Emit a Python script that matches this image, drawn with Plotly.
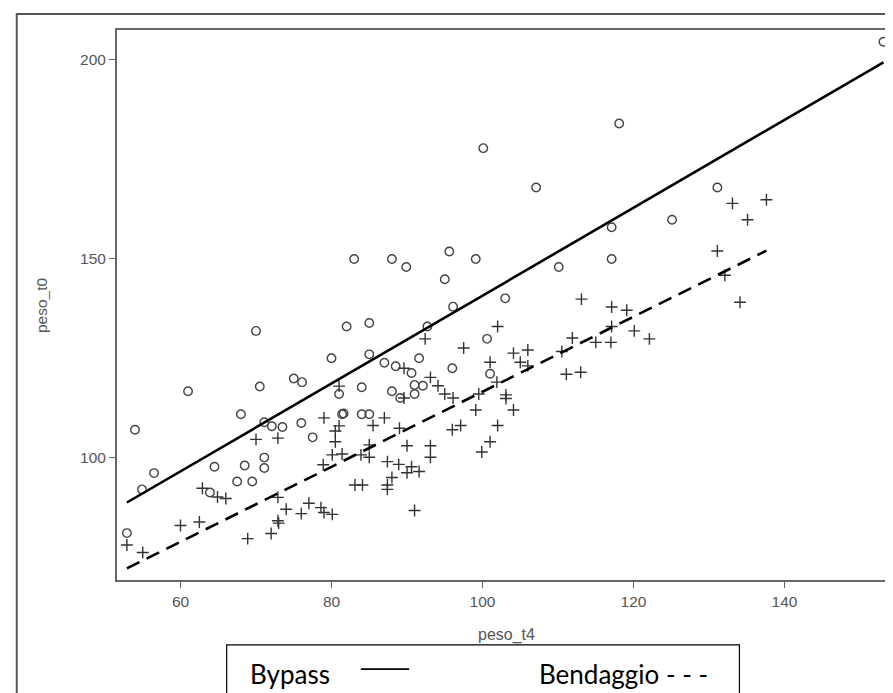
import plotly.graph_objects as go

# ---- data ----
bypass_x = [53.97, 52.9, 54.9, 56.5, 61.0, 64.5, 63.9, 68.0, 67.5, 68.5, 69.5, 70.0, 70.5, 71.1, 71.1, 71.1,
            72.1, 73.5, 75.0, 76.1, 76.0, 77.5, 80.0, 81.0, 81.4, 81.6, 82.0, 84.0, 84.0, 85.0, 85.0, 85.0,
            87.0, 88.0, 88.5, 89.1, 90.6, 91.0, 91.0, 91.6, 92.1, 92.7, 96.0, 100.6, 101.0, 100.1, 83.0, 88.0,
            89.9, 95.6, 99.1, 95.0, 96.1, 103.0, 153.1, 118.1, 107.1, 131.1, 125.1, 117.1, 117.1, 110.1]
bypass_y = [106.9, 80.9, 91.9, 96.0, 116.6, 97.6, 91.1, 110.8, 93.9, 97.9, 93.9, 131.8, 117.8, 108.8, 99.9, 97.3,
            107.8, 107.6, 119.8, 118.9, 108.6, 105.0, 124.9, 115.9, 110.8, 111.0, 132.9, 117.6, 110.8, 110.8, 133.8, 125.9,
            123.8, 116.6, 122.9, 114.9, 121.2, 118.2, 115.9, 124.9, 118.0, 132.9, 122.4, 129.8, 121.0, 177.8, 149.9, 149.9,
            147.9, 151.8, 149.9, 144.8, 137.9, 140.0, 204.6, 184.0, 167.9, 167.9, 159.8, 157.9, 149.9, 147.9]

bend_x = [52.9, 55.0, 60.0, 62.5, 62.9, 64.9, 66.0, 68.9, 70.0, 72.0, 72.9, 73.0, 72.9, 72.9, 74.0, 76.0,
          77.0, 78.6, 79.0, 80.1, 79.0, 78.9, 80.1, 80.5, 80.5, 81.0, 81.4, 81.0, 83.1, 84.1, 83.9, 85.0,
          85.0, 85.5, 87.0, 87.4, 88.0, 87.4, 87.4, 88.9, 89.0, 90.0, 90.6, 90.0, 91.6, 91.0, 89.6, 89.6,
          92.4, 93.1, 93.1, 93.1, 94.1, 95.0, 96.1, 96.0, 97.1, 97.5, 99.1, 99.5, 99.9, 101.0, 101.0, 102.0,
          101.9, 102.0, 103.1, 103.1, 104.1, 104.1, 106.0, 105.0, 106.0, 110.5, 111.9, 115.0, 117.0, 117.1,
          120.1, 122.1, 111.1, 113.0, 113.1, 117.1, 119.1, 133.1, 137.6, 135.1, 131.1, 132.1, 134.1]
bend_y = [77.9, 76.0, 82.8, 83.7, 92.2, 90.0, 89.6, 79.5, 104.5, 80.8, 84.0, 83.4, 104.8, 89.9, 86.9, 85.8,
          88.4, 87.3, 86.1, 85.6, 109.9, 98.1, 100.6, 103.9, 106.6, 107.9, 100.8, 117.9, 93.0, 93.0, 100.6, 100.0,
          103.1, 108.0, 109.9, 98.9, 94.9, 93.0, 91.9, 98.2, 107.3, 102.9, 97.6, 96.1, 96.4, 86.6, 122.4, 114.9,
          129.8, 102.9, 100.0, 120.1, 118.0, 115.9, 114.9, 106.9, 108.0, 127.5, 111.9, 115.9, 101.3, 103.9, 123.9, 132.9,
          118.9, 108.0, 115.7, 114.8, 111.9, 126.2, 127.0, 123.9, 123.0, 126.6, 130.0, 128.9, 128.9, 132.9,
          131.8, 129.8, 120.9, 121.4, 139.8, 137.8, 137.0, 163.9, 164.8, 159.8, 151.9, 145.8, 139.0]

fit_bypass_x = [52.9, 153.1]
fit_bypass_y = [88.6, 199.4]
fit_bend_x = [52.9, 137.6]
fit_bend_y = [72.0, 152.0]

x_ticks = [60, 80, 100, 120, 140]
y_ticks = [100, 150, 200]

fig = go.Figure()
fig.add_trace(go.Scatter(x=bypass_x, y=bypass_y, mode="markers", name="Bypass",
                         marker=dict(symbol="circle-open", size=8.5, color="#444", line=dict(width=1.4))))
fig.add_trace(go.Scatter(x=bend_x, y=bend_y, mode="markers", name="Bendaggio",
                         marker=dict(symbol="cross-thin-open", size=8.5, color="#333", line=dict(width=1.4))))
fig.add_trace(go.Scatter(x=fit_bypass_x, y=fit_bypass_y, mode="lines",
                         line=dict(color="black", width=2.6)))
fig.add_trace(go.Scatter(x=fit_bend_x, y=fit_bend_y, mode="lines",
                         line=dict(color="black", width=2.6, dash="14px,8px")))

axis_common = dict(showgrid=False, zeroline=False, showline=True, mirror=True,
                   linecolor="#666", linewidth=2, ticks="outside", ticklen=6,
                   tickcolor="#666", tickwidth=1,
                   tickfont=dict(family="Liberation Sans, Arial", size=15.5, color="#555"))

fig.update_layout(
    width=893, height=693,
    margin=dict(l=109, r=3, t=22, b=121),
    paper_bgcolor="white", plot_bgcolor="white",
    showlegend=False,
    xaxis=dict(range=[51.59, 154.76], tickvals=x_ticks, **axis_common),
    yaxis=dict(range=[69.09, 207.55], tickvals=y_ticks, **axis_common),
    font=dict(family="Liberation Sans, Arial", color="#444"),
)

# outer frame
fig.add_shape(type="rect", xref="paper", yref="paper", x0=-0.1287, x1=1.02, y0=-0.35, y1=1.029,
              line=dict(color="#555", width=2), fillcolor="rgba(0,0,0,0)", layer="below")

# axis titles
fig.add_annotation(text="peso_t0", xref="paper", yref="paper", x=-0.0975, y=0.5,
                   textangle=-90, showarrow=False, xanchor="center", yanchor="middle",
                   font=dict(family="Liberation Sans, Arial", size=15.5, color="#555"))
fig.add_annotation(text="peso_t4", xref="paper", yref="paper", x=0.5, y=-0.1,
                   showarrow=False, xanchor="center", yanchor="middle",
                   font=dict(family="Liberation Sans, Arial", size=16, color="#555"))

# legend box
fig.add_shape(type="rect", xref="paper", yref="paper", x0=0.1408, x1=0.799, y0=-0.2165, y1=-0.118,
              line=dict(color="black", width=1.2), fillcolor="white", layer="above")
fig.add_shape(type="line", xref="paper", yref="paper", x0=0.313, x1=0.375, y0=-0.162, y1=-0.162,
              line=dict(color="black", width=1.6))
fig.add_annotation(text="Bypass", xref="paper", yref="paper", x=0.168, y=-0.171,
                   showarrow=False, xanchor="left", yanchor="middle",
                   font=dict(family="Lato, Open Sans", size=26, color="black"))
fig.add_annotation(text="Bendaggio - - -", xref="paper", yref="paper", x=0.539, y=-0.171,
                   showarrow=False, xanchor="left", yanchor="middle",
                   font=dict(family="Lato, Open Sans", size=26, color="black"))

fig.write_html("out.html")
